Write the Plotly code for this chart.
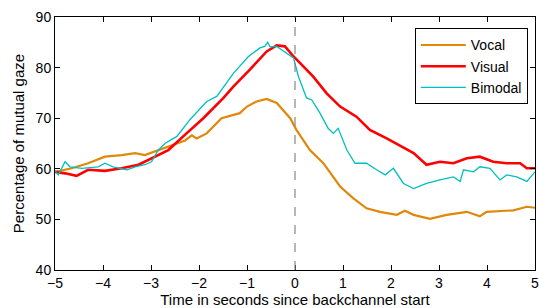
import plotly.graph_objects as go

# ---- data ----
vocal_x = [-5.0, -4.65, -4.31, -3.96, -3.61, -3.33, -3.13, -2.85, -2.64, -2.29,
           -2.15, -2.05, -1.84, -1.53, -1.15, -1.0, -0.8, -0.59, -0.38, -0.1,
           0.03, 0.31, 0.59, 0.94, 1.21, 1.49, 1.77, 2.12, 2.29, 2.47,
           2.81, 3.16, 3.58, 3.85, 3.99, 4.27, 4.55, 4.83, 5.0]
vocal_y = [59.4, 60.1, 61.1, 62.4, 62.7, 63.1, 62.7, 63.7, 64.4, 65.6,
           66.6, 66.0, 67.0, 70.0, 71.0, 72.3, 73.3, 73.8, 73.0, 70.0,
           67.7, 63.7, 61.1, 56.5, 54.2, 52.2, 51.5, 50.9, 51.7, 50.9,
           50.1, 50.9, 51.5, 50.6, 51.5, 51.7, 51.8, 52.5, 52.3]

visual_x = [-5.0, -4.79, -4.55, -4.31, -3.96, -3.61, -3.26, -2.92, -2.64, -2.26,
            -1.91, -1.49, -1.28, -0.94, -0.59, -0.38, -0.21, -0.03, 0.17, 0.38,
            0.66, 0.94, 1.28, 1.56, 1.91, 2.26, 2.47, 2.74, 3.02, 3.3,
            3.58, 3.85, 4.13, 4.41, 4.69, 4.83, 5.0]
visual_y = [59.4, 59.1, 58.6, 59.8, 59.6, 60.1, 60.8, 62.4, 63.7, 67.0,
            70.0, 74.0, 76.3, 79.6, 83.2, 84.4, 84.2, 82.2, 80.2, 78.2,
            74.9, 72.3, 70.3, 67.7, 66.0, 64.1, 63.1, 60.8, 61.4, 61.1,
            62.1, 62.4, 61.4, 61.1, 61.1, 60.1, 60.1]

bimodal_x = [-5.0, -4.93, -4.79, -4.69, -4.44, -4.1, -3.96, -3.79, -3.5, -3.33,
             -3.13, -2.99, -2.85, -2.71, -2.46, -2.19, -1.84, -1.63, -1.28, -0.97,
             -0.73, -0.63, -0.57, -0.52, -0.38, -0.17, -0.03, 0.07, 0.24, 0.35,
             0.52, 0.69, 0.8, 0.9, 1.08, 1.25, 1.49, 1.7, 1.88, 2.05,
             2.26, 2.47, 2.74, 3.02, 3.3, 3.44, 3.51, 3.72, 3.85, 4.06,
             4.27, 4.41, 4.62, 4.83, 5.0]
bimodal_y = [59.6, 58.8, 61.4, 60.4, 60.1, 60.4, 61.1, 60.4, 59.8, 60.4,
             60.8, 61.4, 63.7, 65.0, 66.4, 69.7, 73.3, 74.3, 78.9, 82.2,
             83.9, 84.2, 85.0, 84.1, 84.2, 82.9, 81.9, 78.3, 74.0, 73.6,
             71.0, 68.0, 67.0, 68.0, 63.7, 61.1, 61.1, 59.8, 58.8, 60.1,
             57.1, 56.1, 57.1, 57.8, 58.4, 57.5, 59.8, 59.4, 60.4, 60.1,
             57.8, 58.8, 58.4, 57.5, 59.4]

series_names = ["Vocal", "Visual", "Bimodal"]
x_ticks = [-5, -4, -3, -2, -1, 0, 1, 2, 3, 4, 5]
y_ticks = [40, 50, 60, 70, 80, 90]
onset = 0

FONT = "Liberation Sans, Arial, Helvetica, sans-serif"

fig = go.Figure()
fig.add_trace(go.Scatter(x=vocal_x, y=vocal_y, mode="lines", name=series_names[0],
                         line=dict(color="#E0880A", width=2.2)))
fig.add_trace(go.Scatter(x=visual_x, y=visual_y, mode="lines", name=series_names[1],
                         line=dict(color="#FF0000", width=2.6)))
fig.add_trace(go.Scatter(x=bimodal_x, y=bimodal_y, mode="lines", name=series_names[2],
                         line=dict(color="#00BFBF", width=1.3)))

fig.add_vline(x=onset, line=dict(color="#888888", width=1.2, dash="dash"))

axis_common = dict(showline=True, linecolor="black", linewidth=1, mirror="ticks",
                   ticks="inside", ticklen=5, tickcolor="black", showgrid=False, zeroline=False,
                   automargin=False, ticklabeloverflow="allow",
                   tickfont=dict(family=FONT, size=14, color="black"))

fig.update_layout(
    width=539, height=308,
    margin=dict(l=55, r=4, t=17, b=38, autoexpand=False),
    paper_bgcolor="white", plot_bgcolor="white",
    font=dict(family=FONT, size=14, color="black"),
    xaxis=dict(range=[-5, 5], tickvals=x_ticks,
               ticktext=[str(v).replace("-", "\u2212") for v in x_ticks],
               title=dict(text="Time in seconds since backchannel start", standoff=1,
                          font=dict(family=FONT, size=15)),
               **axis_common),
    yaxis=dict(range=[40, 90], tickvals=y_ticks,
               title=dict(text="Percentage of mutual gaze", standoff=7,
                          font=dict(family=FONT, size=15)),
               **axis_common),
    legend=dict(x=0.985, y=0.955, xanchor="right", yanchor="top",
                bgcolor="white", bordercolor="black", borderwidth=1,
                font=dict(family=FONT, size=14), itemwidth=45,
                tracegroupgap=0),
    showlegend=True,
)

fig.write_html("out.html", config={"displayModeBar": False},
               post_script="document.body.style.margin='0';document.body.style.overflow='hidden';")
